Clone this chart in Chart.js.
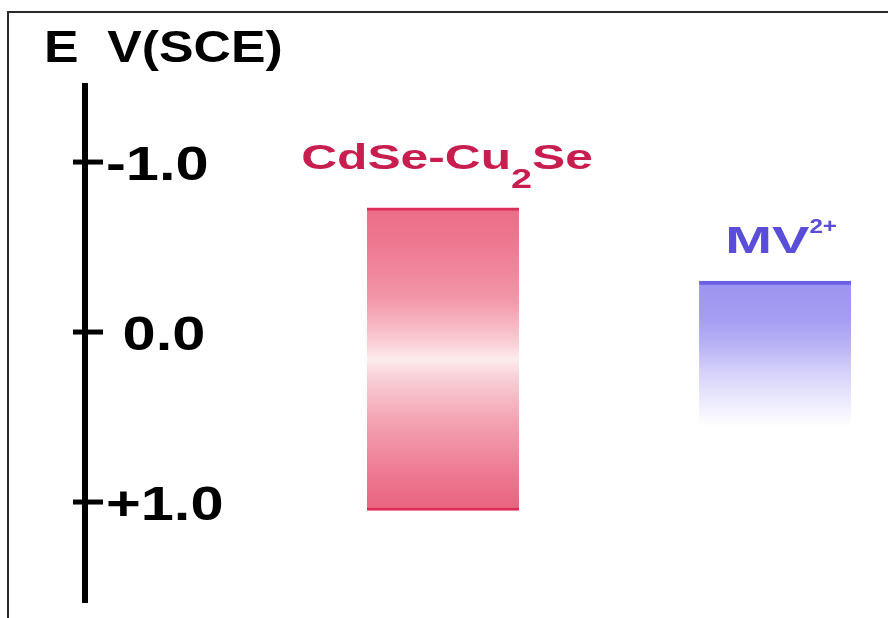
<!DOCTYPE html>
<html>
<head>
<meta charset="utf-8">
<script src="https://cdn.jsdelivr.net/npm/chart.js@4.4.1/dist/chart.umd.min.js"></script>
<style>
  html, body { margin: 0; padding: 0; background: #ffffff; }
  #wrap { width: 888px; height: 618px; }
</style>
</head>
<body>
<div id="wrap"><canvas id="c" width="888" height="618"></canvas></div>
<script>
// Potential axis (V vs SCE, more negative at the top)
const axisTitle = 'E  V(SCE)';
const tickValues = [-1, 0, 1];
const tickLabels = ['-1.0', ' 0.0', '+1.0'];
const potentialRange = [-1.465, 1.594];

// Energy bands: top and bottom edge potentials
const species = ['CdSe-Cu2Se', 'MV2+'];
const speciesSlot = [1, 2];
const bandTop = [-0.73, -0.30];
const bandBottom = [1.05, 0.56];

// Rich-text pieces for the band labels (subscript / superscript)
const speciesText = [
  [{ text: 'CdSe-Cu', size: 35, sx: 1.42, dy: 0 },
   { text: '2', size: 28, sx: 1.35, dy: 19 },
   { text: 'Se', size: 35, sx: 1.42, dy: 0 }],
  [{ text: 'MV', size: 36, sx: 1.56, dy: 0 },
   { text: '2+', size: 21, sx: 1.15, dy: -20 }]
];
const labelColor = ['#c81d4f', '#5a4ed8'];
const labelGap = [39, 28];
const labelShift = [4, 6];

const bandStops = [
  [[0, 'rgb(236,108,134)'], [0.12, 'rgb(238,120,145)'], [0.3, 'rgb(242,150,168)'],
   [0.44, 'rgb(249,204,211)'], [0.5, 'rgb(252,236,237)'], [0.56, 'rgb(248,208,215)'],
   [0.7, 'rgb(243,164,179)'], [0.88, 'rgb(237,120,145)'], [1, 'rgb(232,98,126)']],
  [[0, 'rgb(158,148,240)'], [0.25, 'rgb(164,156,242)'], [0.45, 'rgb(186,180,246)'],
   [0.6, 'rgb(210,206,249)'], [0.8, 'rgb(234,232,252)'], [1, 'rgb(255,255,255)']]
];
const bandEdge = ['rgb(222,44,88)', 'rgb(106,96,228)'];
const bandEdgeWidth = [
  { top: 3, bottom: 3, left: 0, right: 0 },
  { top: 4, bottom: 0, left: 0, right: 0 }
];

const FONT = '"Liberation Sans", Arial, Helvetica, sans-serif';

function drawRich(ctx, parts, x, baseline, color, align) {
  const widths = parts.map(p => {
    ctx.font = `bold ${p.size}px ${FONT}`;
    return ctx.measureText(p.text).width * p.sx;
  });
  const total = widths.reduce((a, b) => a + b, 0);
  let cx = align === 'center' ? x - total / 2 : x;
  parts.forEach((p, k) => {
    ctx.save();
    ctx.font = `bold ${p.size}px ${FONT}`;
    ctx.fillStyle = color;
    ctx.textBaseline = 'alphabetic';
    ctx.textAlign = 'left';
    ctx.translate(cx, baseline + (p.dy || 0));
    ctx.scale(p.sx, 1);
    ctx.fillText(p.text, 0, 0);
    ctx.restore();
    cx += widths[k];
  });
}

function bandFill(c) {
  const chart = c.chart;
  if (!chart.chartArea || c.dataIndex === undefined) return 'rgba(0,0,0,0)';
  const i = c.dataIndex;
  const y = chart.scales.y;
  const y0 = y.getPixelForValue(bandTop[i]);
  const y1 = y.getPixelForValue(bandBottom[i]);
  const g = chart.ctx.createLinearGradient(0, y0, 0, y1);
  bandStops[i].forEach(([p, col]) => g.addColorStop(p, col));
  return g;
}

const energyAxis = {
  id: 'energyAxis',
  beforeDraw(chart) {
    const ctx = chart.ctx;
    ctx.save();
    ctx.fillStyle = '#ffffff';
    ctx.fillRect(0, 0, chart.width, chart.height);
    // frame
    ctx.strokeStyle = '#2a2a2a';
    ctx.lineWidth = 2;
    ctx.beginPath();
    ctx.moveTo(8, chart.height);
    ctx.lineTo(8, 12);
    ctx.lineTo(chart.width, 12);
    ctx.stroke();
    ctx.restore();
  },
  afterDatasetsDraw(chart) {
    const ctx = chart.ctx;
    const area = chart.chartArea;
    const ys = chart.scales.y;
    const ax = area.left;
    ctx.save();
    // axis line
    ctx.strokeStyle = '#000000';
    ctx.lineWidth = 6;
    ctx.beginPath();
    ctx.moveTo(ax, area.top);
    ctx.lineTo(ax, area.bottom);
    ctx.stroke();
    // ticks and their labels
    ctx.lineWidth = 5;
    tickValues.forEach((v, k) => {
      const py = ys.getPixelForValue(v);
      ctx.beginPath();
      ctx.moveTo(ax - 12, py);
      ctx.lineTo(ax + 18, py);
      ctx.stroke();
      drawRich(ctx, [{ text: tickLabels[k], size: 48, sx: 1.24, dy: 0 }], ax + 21, py + 18, '#000000', 'left');
    });
    // axis title
    drawRich(ctx, [{ text: axisTitle, size: 45, sx: 1.15, dy: 0 }], 44, 62, '#000000', 'left');
    // band labels
    const meta = chart.getDatasetMeta(0);
    meta.data.forEach((el, i) => {
      const top = Math.min(el.y, el.base);
      drawRich(ctx, speciesText[i], el.x + labelShift[i], top - labelGap[i], labelColor[i], 'center');
    });
    ctx.restore();
  }
};

new Chart(document.getElementById('c'), {
  type: 'bar',
  data: {
    datasets: [{
      label: 'bands',
      data: speciesSlot.map((x, i) => ({ x: x, y: [bandTop[i], bandBottom[i]] })),
      backgroundColor: bandFill,
      borderColor: c => bandEdge[c.dataIndex] || '#000',
      borderWidth: c => bandEdgeWidth[c.dataIndex] || 0,
      borderSkipped: false,
      barThickness: 152,
      grouped: false
    }]
  },
  options: {
    responsive: false,
    animation: false,
    devicePixelRatio: 1,
    layout: { padding: { left: 85, top: 83, right: 8, bottom: 15 } },
    plugins: { legend: { display: false }, tooltip: { enabled: false }, title: { display: false } },
    scales: {
      x: { type: 'linear', min: -0.078, max: 2.316, offset: false, grid: { offset: false }, display: false },
      y: { type: 'linear', min: potentialRange[0], max: potentialRange[1], reverse: true, display: false }
    }
  },
  plugins: [energyAxis]
});
</script>
</body>
</html>
